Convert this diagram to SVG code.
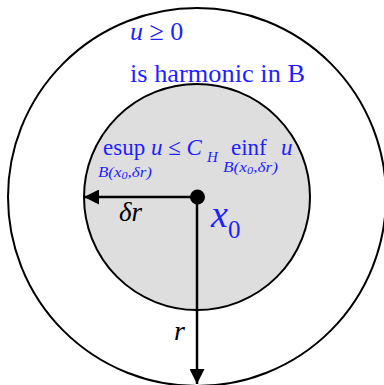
<svg xmlns="http://www.w3.org/2000/svg" width="384" height="385" viewBox="0 0 384 385">
<style>
.t{font-family:"Liberation Serif","Times New Roman",serif;fill:#1f1fff}
.k{font-family:"Liberation Serif","Times New Roman",serif;fill:#000}
.i{font-style:italic}
.ln{stroke:#000;stroke-width:2.5;fill:none}
</style>
<defs>
<marker id="ah" viewBox="0 0 10 10" refX="10" refY="5" markerWidth="17" markerHeight="15" markerUnits="userSpaceOnUse" orient="auto">
<path d="M0,0 L10,5 L0,10 Z" fill="#000"/>
</marker>
</defs>
<g id="outer"><circle cx="197" cy="197" r="189" fill="#fff" stroke="#000" stroke-width="2"/></g>
<g id="inner"><circle cx="197" cy="197" r="113" fill="#dedede" stroke="#000" stroke-width="2"/></g>
<g id="connectors">
<line class="ln" x1="197" y1="197" x2="84" y2="197" marker-end="url(#ah)"/>
<line class="ln" x1="197" y1="197" x2="197" y2="384" marker-end="url(#ah)"/>
</g>
<g id="center"><circle cx="197.5" cy="197" r="7.5" fill="#000"/></g>
<g id="labels">
<text class="t" x="130" y="40" font-size="26"><tspan class="i">u</tspan> ≥ 0</text>
<text class="t" x="130" y="82" font-size="26" textLength="175" lengthAdjust="spacingAndGlyphs">is harmonic in B</text>
<text class="t" x="103" y="155" font-size="23">esup <tspan class="i">u</tspan> ≤ <tspan class="i">C</tspan></text>
<text class="t i" x="207" y="162" font-size="15">H</text>
<text class="t" x="231" y="155" font-size="23">einf</text>
<text class="t i" x="281" y="155" font-size="23">u</text>
<text class="t i" x="98" y="177" font-size="14" textLength="54" lengthAdjust="spacingAndGlyphs">B(x<tspan font-size="10" dy="2">0</tspan><tspan dy="-2">,δr)</tspan></text>
<text class="t i" x="223" y="172" font-size="14" textLength="55" lengthAdjust="spacingAndGlyphs">B(x<tspan font-size="10" dy="2">0</tspan><tspan dy="-2">,δr)</tspan></text>
<text class="k i" x="119" y="221" font-size="27">δr</text>
<text class="t i" x="211" y="227" font-size="38">x</text>
<text class="t" x="228" y="238" font-size="25">0</text>
<text class="k i" x="174" y="340" font-size="28">r</text>
</g>
</svg>
